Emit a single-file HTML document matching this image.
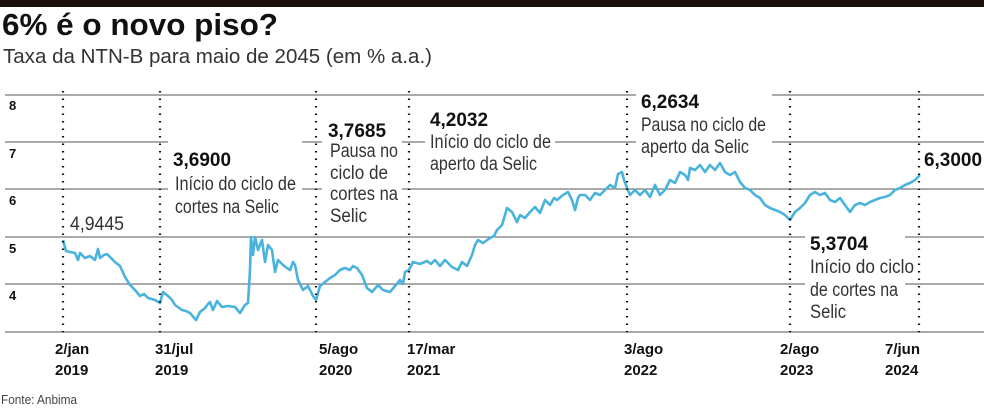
<!DOCTYPE html>
<html><head><meta charset="utf-8"><style>
body{margin:0;background:#fff;width:984px;height:407px;overflow:hidden}
svg text{font-family:"Liberation Sans",sans-serif}
</style></head><body>
<svg width="984" height="407" viewBox="0 0 984 407" xmlns="http://www.w3.org/2000/svg">
<rect x="0" y="0" width="984" height="7" fill="#1a0f08"/>
<text x="2" y="35" font-size="31" font-weight="bold" fill="#111" textLength="276" lengthAdjust="spacingAndGlyphs">6% é o novo piso?</text>
<text x="3" y="63" font-size="20" fill="#333" textLength="429" lengthAdjust="spacingAndGlyphs">Taxa da NTN-B para maio de 2045 (em % a.a.)</text>
<g stroke="#555" stroke-width="1">
<line x1="5" y1="95" x2="984" y2="95"/>
<line x1="5" y1="142" x2="984" y2="142"/>
<line x1="5" y1="189" x2="984" y2="189"/>
<line x1="5" y1="237" x2="984" y2="237"/>
<line x1="5" y1="284" x2="984" y2="284"/>
<line x1="5" y1="332" x2="984" y2="332"/>
</g>
<g font-size="13" font-weight="bold" fill="#111">
<text x="9" y="110">8</text><text x="9" y="158">7</text><text x="9" y="205">6</text><text x="9" y="253">5</text><text x="9" y="300">4</text>
</g>
<g fill="#fff">
<rect x="168" y="140" width="134" height="80"/>
<rect x="322" y="112" width="80" height="112"/>
<rect x="425" y="102" width="130" height="72"/>
<rect x="636" y="90" width="136" height="66"/>
<rect x="805" y="232" width="100" height="92"/>
</g>
<polyline fill="none" stroke="#4ab3dc" stroke-width="2.6" stroke-linejoin="round" points="63,240 66,251 70,252 75,253 78,260 80,253 85,258 90,256 95,260 98,249 100,258 104,255 107,254 111,258 115,262 120,266 125,277 130,285 135,290 140,296 144,294 148,298 155,300 160,303 163,292 168,296 172,300 175,305 182,310 186,311 190,313 196,320 200,312 205,308 208,304 210,302 213,310 217,301 222,307 228,306 235,307 240,313 245,305 248,303 250,270 251,237 253,255 255,237 258,250 262,240 265,262 268,245 272,250 275,272 278,260 283,265 287,268 290,270 293,262 295,265 298,280 303,290 308,286 313,296 316,300 320,286 325,282 330,278 335,275 340,270 345,268 350,270 353,266 357,268 362,275 367,288 372,292 378,285 383,290 390,292 395,286 400,280 403,284 405,272 409,270 413,262 420,264 427,261 431,264 435,260 440,266 445,260 452,267 458,270 462,262 467,266 472,255 475,245 478,240 483,243 490,238 494,236 497,230 502,225 505,215 507,208 512,212 517,222 520,215 525,218 530,212 535,207 540,213 545,200 550,205 554,198 557,200 563,195 568,192 572,200 575,210 578,198 580,195 585,195 590,200 595,193 600,195 605,190 610,185 615,188 618,174 622,172 624,180 627,188 630,195 635,190 640,195 645,190 650,197 655,185 660,195 665,190 670,180 675,183 680,172 685,175 688,180 690,168 695,170 700,165 705,172 710,165 715,170 720,163 725,172 730,175 735,172 740,182 745,188 750,190 755,195 760,198 765,205 770,208 775,210 780,212 785,215 790,220 795,212 800,208 805,203 810,195 815,192 820,195 825,193 830,200 835,202 840,198 845,205 850,212 855,205 860,203 865,205 870,202 875,200 880,198 885,197 890,195 895,190 900,188 905,185 910,183 915,180 920,175"/>
<g stroke="#111" stroke-width="2.2" stroke-dasharray="1.5 6">
<line x1="63" y1="91" x2="63" y2="334"/>
<line x1="160" y1="91" x2="160" y2="334"/>
<line x1="316" y1="91" x2="316" y2="334"/>
<line x1="409" y1="91" x2="409" y2="334"/>
<line x1="627" y1="91" x2="627" y2="334"/>
<line x1="790" y1="91" x2="790" y2="334"/>
<line x1="919" y1="91" x2="919" y2="334"/>
</g>
<g font-size="19" fill="#333" lengthAdjust="spacingAndGlyphs">
<text x="70" y="230" textLength="54" lengthAdjust="spacingAndGlyphs">4,9445</text>
<text x="173" y="166" font-weight="bold" fill="#111" textLength="58" lengthAdjust="spacingAndGlyphs">3,6900</text>
<text x="175" y="190" textLength="121" lengthAdjust="spacingAndGlyphs">Início do ciclo de</text>
<text x="175" y="213" textLength="104" lengthAdjust="spacingAndGlyphs">cortes na Selic</text>
<text x="328" y="137" font-weight="bold" fill="#111" textLength="58" lengthAdjust="spacingAndGlyphs">3,7685</text>
<text x="330" y="157" textLength="68" lengthAdjust="spacingAndGlyphs">Pausa no</text>
<text x="330" y="179" textLength="58" lengthAdjust="spacingAndGlyphs">ciclo de</text>
<text x="330" y="200" textLength="68" lengthAdjust="spacingAndGlyphs">cortes na</text>
<text x="330" y="222" textLength="37" lengthAdjust="spacingAndGlyphs">Selic</text>
<text x="430" y="126" font-weight="bold" fill="#111" textLength="58" lengthAdjust="spacingAndGlyphs">4,2032</text>
<text x="430" y="148" textLength="121" lengthAdjust="spacingAndGlyphs">Início do ciclo de</text>
<text x="430" y="170" textLength="107" lengthAdjust="spacingAndGlyphs">aperto da Selic</text>
<text x="641" y="108" font-weight="bold" fill="#111" textLength="58" lengthAdjust="spacingAndGlyphs">6,2634</text>
<text x="641" y="131" textLength="125" lengthAdjust="spacingAndGlyphs">Pausa no ciclo de</text>
<text x="641" y="153" textLength="108" lengthAdjust="spacingAndGlyphs">aperto da Selic</text>
<text x="924" y="166" font-weight="bold" fill="#111" textLength="58" lengthAdjust="spacingAndGlyphs">6,3000</text>
<text x="810" y="250" font-weight="bold" fill="#111" textLength="58" lengthAdjust="spacingAndGlyphs">5,3704</text>
<text x="810" y="273" textLength="104" lengthAdjust="spacingAndGlyphs">Início do ciclo</text>
<text x="810" y="296" textLength="88" lengthAdjust="spacingAndGlyphs">de cortes na</text>
<text x="810" y="318" textLength="36" lengthAdjust="spacingAndGlyphs">Selic</text>
</g>
<g font-size="15" font-weight="bold" fill="#111">
<text x="55" y="354">2/jan</text><text x="55" y="375">2019</text>
<text x="155" y="354">31/jul</text><text x="155" y="375">2019</text>
<text x="319" y="354">5/ago</text><text x="319" y="375">2020</text>
<text x="407" y="354">17/mar</text><text x="407" y="375">2021</text>
<text x="624" y="354">3/ago</text><text x="624" y="375">2022</text>
<text x="780" y="354">2/ago</text><text x="780" y="375">2023</text>
<text x="885" y="354">7/jun</text><text x="885" y="375">2024</text>
</g>
<text x="1" y="404" font-size="13" fill="#444" textLength="76" lengthAdjust="spacingAndGlyphs">Fonte: Anbima</text>
</svg>
</body></html>
